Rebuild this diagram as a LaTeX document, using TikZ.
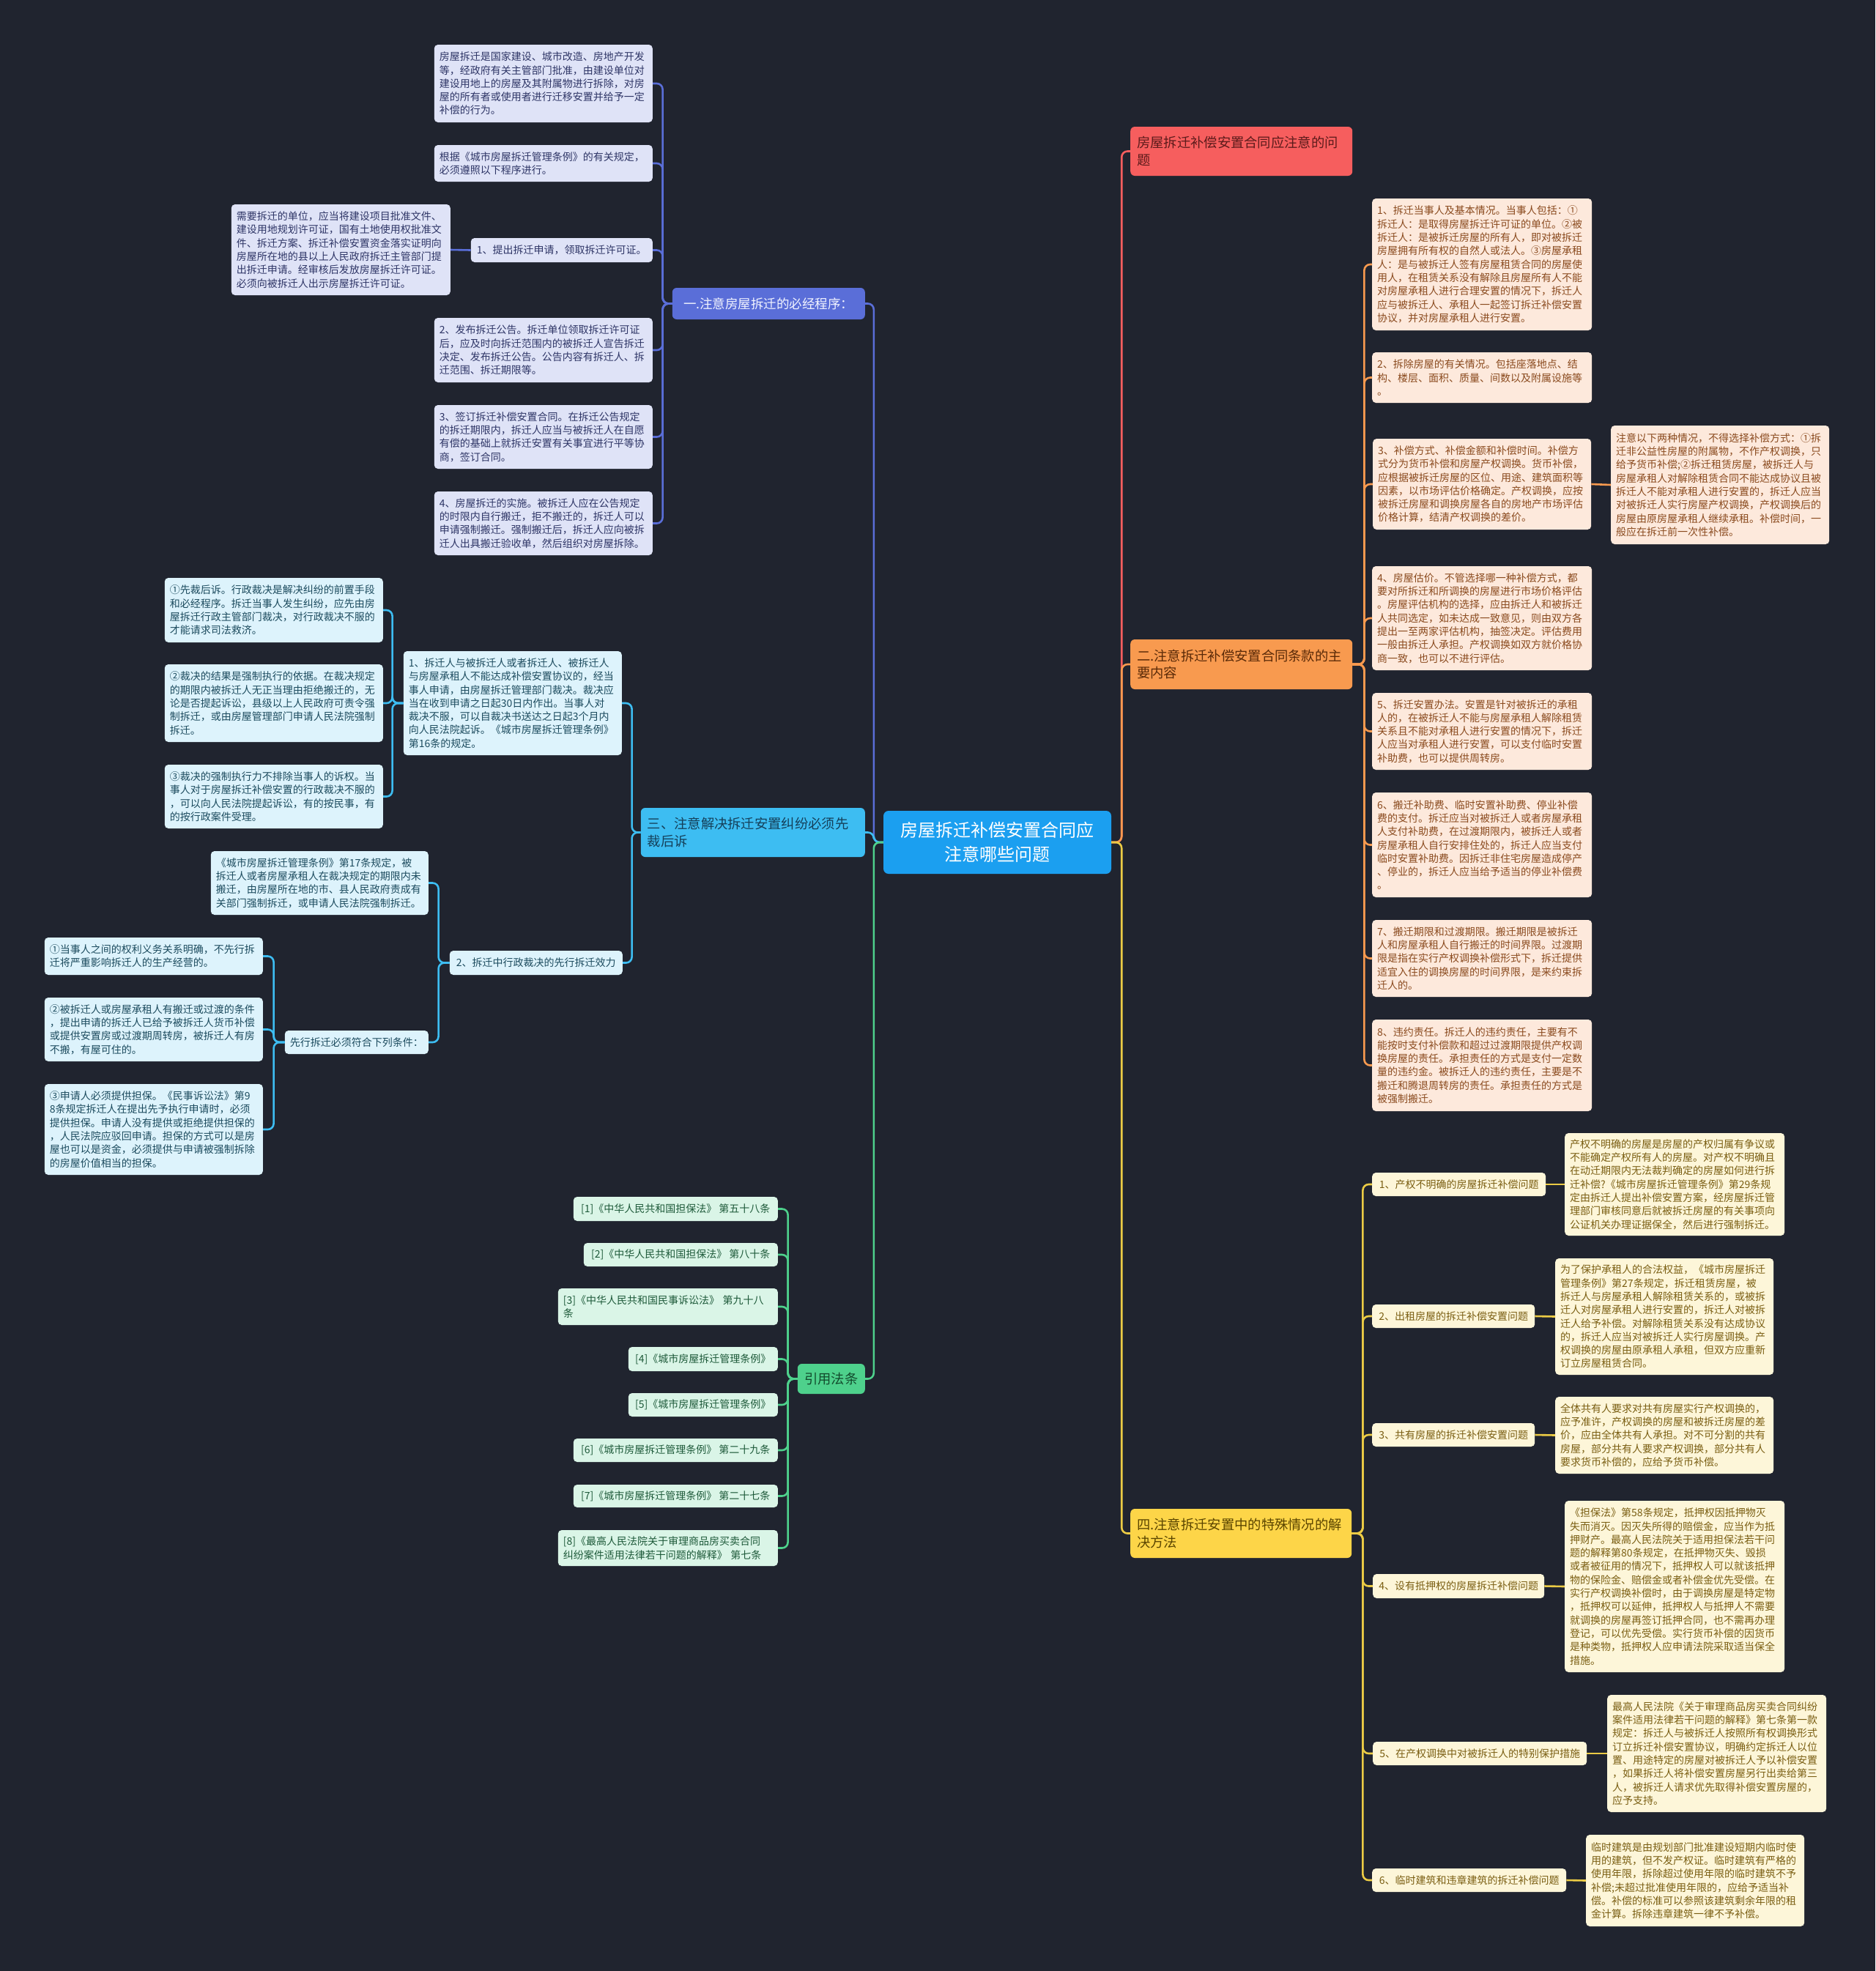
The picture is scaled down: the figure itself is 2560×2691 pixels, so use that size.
\documentclass[tikz,border=0pt]{standalone}
\usepackage{fontspec}
\setmainfont{Noto Sans CJK SC}
\definecolor{bgcol}{HTML}{20242F}
\definecolor{centrefill}{HTML}{1B9FF0}
\definecolor{redfill}{HTML}{F65E5E}
\definecolor{redtext}{HTML}{5C1B1B}
\definecolor{orangefill}{HTML}{F89A4F}
\definecolor{orangetext}{HTML}{5A2A08}
\definecolor{yellowfill}{HTML}{FDD548}
\definecolor{yellowtext}{HTML}{5A4500}
\definecolor{indigofill}{HTML}{5A6ED8}
\definecolor{indigotext}{HTML}{F2F4FF}
\definecolor{skyfill}{HTML}{3DBDF2}
\definecolor{skytext}{HTML}{15405A}
\definecolor{greenfill}{HTML}{4ED18C}
\definecolor{greentext}{HTML}{124A2C}
\definecolor{lavfill}{HTML}{DFE3F7}
\definecolor{lavtext}{HTML}{2E3566}
\definecolor{skyleaffill}{HTML}{DDF3FC}
\definecolor{skyleaftext}{HTML}{1C4B5E}
\definecolor{mintfill}{HTML}{DAF5E7}
\definecolor{minttext}{HTML}{1E5A3A}
\definecolor{peachfill}{HTML}{FDE9DC}
\definecolor{peachtext}{HTML}{8A4A1E}
\definecolor{creamfill}{HTML}{FDF6D9}
\definecolor{creamtext}{HTML}{7A5E12}
\definecolor{yellowline}{HTML}{EBCB45}
\begin{document}
\begin{tikzpicture}[x=1pt, y=-1pt,
    leaf/.style={rounded corners=5pt, inner xsep=7pt, inner ysep=3pt, align=left,
        font=\fontsize{14}{18.3}\selectfont},
    main/.style={rounded corners=6pt, inner xsep=9pt, inner ysep=3pt, align=left,
        font=\fontsize{18.3}{23.5}\selectfont},
    lavleaf/.style={leaf, fill=lavfill, text=lavtext},
    skyleaf/.style={leaf, fill=skyleaffill, text=skyleaftext},
    mintleaf/.style={leaf, fill=mintfill, text=minttext},
    peachleaf/.style={leaf, fill=peachfill, text=peachtext},
    creamleaf/.style={leaf, fill=creamfill, text=creamtext},
    conn/.style={line width=2.6pt, rounded corners=8pt}]
    % Background
    \fill[bgcol] (0,0) rectangle (2560,2691);
    \useasboundingbox (0,0) rectangle (2560,2691);
    % Centre and main branches
    \node[rounded corners=7pt, fill=centrefill, text=white, align=center,
        minimum width=311pt, minimum height=86pt,
        font=\fontsize{24}{33}\selectfont] (c) at (1361.5,1150)
        {房屋拆迁补偿安置合同应\\注意哪些问题};
    \node[main, fill=redfill, text=redtext, anchor=west, text width=285pt,
        minimum height=67pt] (r) at (1543,206.5) {房屋拆迁补偿安置合同应注意的问\\题};
    \node[main, fill=orangefill, text=orangetext, anchor=west, text width=285pt,
        minimum height=68pt] (b2) at (1543,907) {二.注意拆迁补偿安置合同条款的主\\要内容};
    \node[main, fill=yellowfill, text=yellowtext, anchor=west, text width=284pt,
        minimum height=67pt] (b4) at (1543,2093.5) {四.注意拆迁安置中的特殊情况的解\\决方法};
    \node[main, fill=indigofill, text=indigotext, anchor=east, minimum width=263pt,
        minimum height=43pt, font=\fontsize{17.5}{22}\selectfont] (b1) at (1181,414.5)
        {一.注意房屋拆迁的必经程序：};
    \node[main, fill=skyfill, text=skytext, anchor=east, text width=288pt,
        minimum height=67pt] (b3) at (1181,1136.5) {三、注意解决拆迁安置纠纷必须先\\裁后诉};
    \node[main, fill=greenfill, text=greentext, anchor=east, minimum width=92pt,
        minimum height=41pt] (bg) at (1181,1882.5) {引用法条};
    % Branch one
    \node[lavleaf, anchor=east, text width=284pt, minimum height=106pt] (p1) at (891,114)
        {房屋拆迁是国家建设、城市改造、房地产开发\\等，经政府有关主管部门批准，由建设单位对\\建设用地上的房屋及其附属物进行拆除，对房\\屋的所有者或使用者进行迁移安置并给予一定\\补偿的行为。};
    \node[lavleaf, anchor=east, text width=284pt, minimum height=50pt] (p2) at (891,223)
        {根据《城市房屋拆迁管理条例》的有关规定，\\必须遵照以下程序进行。};
    \node[lavleaf, anchor=east, minimum width=248pt, minimum height=33pt] (p3) at (891,341.5)
        {1、提出拆迁申请，领取拆迁许可证。};
    \node[lavleaf, anchor=east, text width=285pt, minimum height=124pt] (p3a) at (615,341)
        {需要拆迁的单位，应当将建设项目批准文件、\\建设用地规划许可证，国有土地使用权批准文\\件、拆迁方案、拆迁补偿安置资金落实证明向\\房屋所在地的县以上人民政府拆迁主管部门提\\出拆迁申请。经审核后发放房屋拆迁许可证。\\必须向被拆迁人出示房屋拆迁许可证。};
    \node[lavleaf, anchor=east, text width=284pt, minimum height=88pt] (p4) at (891,478)
        {2、发布拆迁公告。拆迁单位领取拆迁许可证\\后，应及时向拆迁范围内的被拆迁人宣告拆迁\\决定、发布拆迁公告。公告内容有拆迁人、拆\\迁范围、拆迁期限等。};
    \node[lavleaf, anchor=east, text width=284pt, minimum height=87pt] (p5) at (891,596.5)
        {3、签订拆迁补偿安置合同。在拆迁公告规定\\的拆迁期限内，拆迁人应当与被拆迁人在自愿\\有偿的基础上就拆迁安置有关事宜进行平等协\\商，签订合同。};
    \node[lavleaf, anchor=east, text width=284pt, minimum height=87pt] (p6) at (891,714.5)
        {4、房屋拆迁的实施。被拆迁人应在公告规定\\的时限内自行搬迁，拒不搬迁的，拆迁人可以\\申请强制搬迁。强制搬迁后，拆迁人应向被拆\\迁人出具搬迁验收单，然后组织对房屋拆除。};
    % Branch three
    \node[skyleaf, anchor=east, text width=284pt, minimum height=88pt] (t1) at (523,833)
        {①先裁后诉。行政裁决是解决纠纷的前置手段\\和必经程序。拆迁当事人发生纠纷，应先由房\\屋拆迁行政主管部门裁决，对行政裁决不服的\\才能请求司法救济。};
    \node[skyleaf, anchor=east, text width=284pt, minimum height=106pt] (t2) at (523,960)
        {②裁决的结果是强制执行的依据。在裁决规定\\的期限内被拆迁人无正当理由拒绝搬迁的，无\\论是否提起诉讼，县级以上人民政府可责令强\\制拆迁，或由房屋管理部门申请人民法院强制\\拆迁。};
    \node[skyleaf, anchor=east, text width=284pt, minimum height=87pt] (t3) at (523,1087.5)
        {③裁决的强制执行力不排除当事人的诉权。当\\事人对于房屋拆迁补偿安置的行政裁决不服的\\，可以向人民法院提起诉讼，有的按民事，有\\的按行政案件受理。};
    \node[skyleaf, anchor=east, text width=284pt, minimum height=142pt] (t4) at (849,960)
        {1、拆迁人与被拆迁人或者拆迁人、被拆迁人\\与房屋承租人不能达成补偿安置协议的，经当\\事人申请，由房屋拆迁管理部门裁决。裁决应\\当在收到申请之日起30日内作出。当事人对\\裁决不服，可以自裁决书送达之日起3个月内\\向人民法院起诉。《城市房屋拆迁管理条例》\\第16条的规定。};
    \node[skyleaf, anchor=east, text width=283pt, minimum height=87pt] (t5) at (585,1205.5)
        {《城市房屋拆迁管理条例》第17条规定，被\\拆迁人或者房屋承租人在裁决规定的期限内未\\搬迁，由房屋所在地的市、县人民政府责成有\\关部门强制拆迁，或申请人民法院强制拆迁。};
    \node[skyleaf, anchor=east, minimum width=236pt, minimum height=33pt] (t6) at (850,1314.5)
        {2、拆迁中行政裁决的先行拆迁效力};
    \node[skyleaf, anchor=east, minimum width=196pt, minimum height=32pt] (t7) at (585,1423)
        {先行拆迁必须符合下列条件：};
    \node[skyleaf, anchor=east, text width=284pt, minimum height=51pt] (t8) at (359,1305.5)
        {①当事人之间的权利义务关系明确，不先行拆\\迁将严重影响拆迁人的生产经营的。};
    \node[skyleaf, anchor=east, text width=284pt, minimum height=87pt] (t9) at (359,1405.5)
        {②被拆迁人或房屋承租人有搬迁或过渡的条件\\，提出申请的拆迁人已给予被拆迁人货币补偿\\或提供安置房或过渡期周转房，被拆迁人有房\\不搬，有屋可住的。};
    \node[skyleaf, anchor=east, text width=284pt, minimum height=124pt] (t10) at (359,1542)
        {③申请人必须提供担保。《民事诉讼法》第9\\8条规定拆迁人在提出先予执行申请时，必须\\提供担保。申请人没有提供或拒绝提供担保的\\，人民法院应驳回申请。担保的方式可以是房\\屋也可以是资金，必须提供与申请被强制拆除\\的房屋价值相当的担保。};
    % Cited laws
    \node[mintleaf, anchor=east, minimum width=279pt, minimum height=33pt] (g1) at (1062,1650.5)
        {[1]《中华人民共和国担保法》 第五十八条};
    \node[mintleaf, anchor=east, minimum width=265pt, minimum height=32pt] (g2) at (1062,1713)
        {[2]《中华人民共和国担保法》 第八十条};
    \node[mintleaf, anchor=east, text width=286pt, minimum height=50pt] (g3) at (1062,1784)
        {[3]《中华人民共和国民事诉讼法》 第九十八\\条};
    \node[mintleaf, anchor=east, minimum width=204pt, minimum height=33pt] (g4) at (1062,1855.5)
        {[4]《城市房屋拆迁管理条例》};
    \node[mintleaf, anchor=east, minimum width=204pt, minimum height=32pt] (g5) at (1062,1918)
        {[5]《城市房屋拆迁管理条例》};
    \node[mintleaf, anchor=east, minimum width=279pt, minimum height=32pt] (g6) at (1062,1980)
        {[6]《城市房屋拆迁管理条例》 第二十九条};
    \node[mintleaf, anchor=east, minimum width=279pt, minimum height=31pt] (g7) at (1062,2042.5)
        {[7]《城市房屋拆迁管理条例》 第二十七条};
    \node[mintleaf, anchor=east, text width=286pt, minimum height=49pt] (g8) at (1062,2113.5)
        {[8]《最高人民法院关于审理商品房买卖合同\\纠纷案件适用法律若干问题的解释》 第七条};
    % Branch two
    \node[peachleaf, anchor=west, text width=286pt, minimum height=180pt] (o1) at (1873,361)
        {1、拆迁当事人及基本情况。当事人包括：①\\拆迁人：是取得房屋拆迁许可证的单位。②被\\拆迁人：是被拆迁房屋的所有人，即对被拆迁\\房屋拥有所有权的自然人或法人。③房屋承租\\人：是与被拆迁人签有房屋租赁合同的房屋使\\用人，在租赁关系没有解除且房屋所有人不能\\对房屋承租人进行合理安置的情况下，拆迁人\\应与被拆迁人、承租人一起签订拆迁补偿安置\\协议，并对房屋承租人进行安置。};
    \node[peachleaf, anchor=west, text width=286pt, minimum height=69pt] (o2) at (1873,515.5)
        {2、拆除房屋的有关情况。包括座落地点、结\\构、楼层、面积、质量、间数以及附属设施等\\。};
    \node[peachleaf, anchor=west, text width=284pt, minimum height=124pt] (o3) at (1874,661)
        {3、补偿方式、补偿金额和补偿时间。补偿方\\式分为货币补偿和房屋产权调换。货币补偿，\\应根据被拆迁房屋的区位、用途、建筑面积等\\因素，以市场评估价格确定。产权调换，应按\\被拆迁房屋和调换房屋各自的房地产市场评估\\价格计算，结清产权调换的差价。};
    \node[peachleaf, anchor=west, text width=284pt, minimum height=162pt] (o3a) at (2199,662)
        {注意以下两种情况，不得选择补偿方式：①拆\\迁非公益性房屋的附属物，不作产权调换，只\\给予货币补偿;②拆迁租赁房屋，被拆迁人与\\房屋承租人对解除租赁合同不能达成协议且被\\拆迁人不能对承租人进行安置的，拆迁人应当\\对被拆迁人实行房屋产权调换，产权调换后的\\房屋由原房屋承租人继续承租。补偿时间，一\\般应在拆迁前一次性补偿。};
    \node[peachleaf, anchor=west, text width=286pt, minimum height=142pt] (o4) at (1873,844)
        {4、房屋估价。不管选择哪一种补偿方式，都\\要对所拆迁和所调换的房屋进行市场价格评估\\。房屋评估机构的选择，应由拆迁人和被拆迁\\人共同选定，如未达成一致意见，则由双方各\\提出一至两家评估机构，抽签决定。评估费用\\一般由拆迁人承担。产权调换如双方就价格协\\商一致，也可以不进行评估。};
    \node[peachleaf, anchor=west, text width=286pt, minimum height=105pt] (o5) at (1873,998.5)
        {5、拆迁安置办法。安置是针对被拆迁的承租\\人的，在被拆迁人不能与房屋承租人解除租赁\\关系且不能对承租人进行安置的情况下，拆迁\\人应当对承租人进行安置，可以支付临时安置\\补助费，也可以提供周转房。};
    \node[peachleaf, anchor=west, text width=286pt, minimum height=143pt] (o6) at (1873,1153.5)
        {6、搬迁补助费、临时安置补助费、停业补偿\\费的支付。拆迁应当对被拆迁人或者房屋承租\\人支付补助费，在过渡期限内，被拆迁人或者\\房屋承租人自行安排住处的，拆迁人应当支付\\临时安置补助费。因拆迁非住宅房屋造成停产\\、停业的，拆迁人应当给予适当的停业补偿费\\。};
    \node[peachleaf, anchor=west, text width=286pt, minimum height=105pt] (o7) at (1873,1308.5)
        {7、搬迁期限和过渡期限。搬迁期限是被拆迁\\人和房屋承租人自行搬迁的时间界限。过渡期\\限是指在实行产权调换补偿形式下，拆迁提供\\适宜入住的调换房屋的时间界限，是来约束拆\\迁人的。};
    \node[peachleaf, anchor=west, text width=286pt, minimum height=125pt] (o8) at (1873,1454.5)
        {8、违约责任。拆迁人的违约责任，主要有不\\能按时支付补偿款和超过过渡期限提供产权调\\换房屋的责任。承担责任的方式是支付一定数\\量的违约金。被拆迁人的违约责任，主要是不\\搬迁和腾退周转房的责任。承担责任的方式是\\被强制搬迁。};
    % Branch four
    \node[creamleaf, anchor=west, minimum width=237pt, minimum height=32pt] (y1) at (1873,1617)
        {1、产权不明确的房屋拆迁补偿问题};
    \node[creamleaf, anchor=west, text width=286pt, minimum height=140pt] (y1a) at (2136,1617)
        {产权不明确的房屋是房屋的产权归属有争议或\\不能确定产权所有人的房屋。对产权不明确且\\在动迁期限内无法裁判确定的房屋如何进行拆\\迁补偿?《城市房屋拆迁管理条例》第29条规\\定由拆迁人提出补偿安置方案，经房屋拆迁管\\理部门审核同意后就被拆迁房屋的有关事项向\\公证机关办理证据保全，然后进行强制拆迁。};
    \node[creamleaf, anchor=west, minimum width=222pt, minimum height=32pt] (y2) at (1873,1797)
        {2、出租房屋的拆迁补偿安置问题};
    \node[creamleaf, anchor=west, text width=284pt, minimum height=159pt] (y2a) at (2123,1797.5)
        {为了保护承租人的合法权益，《城市房屋拆迁\\管理条例》第27条规定，拆迁租赁房屋，被\\拆迁人与房屋承租人解除租赁关系的，或被拆\\迁人对房屋承租人进行安置的，拆迁人对被拆\\迁人给予补偿。对解除租赁关系没有达成协议\\的，拆迁人应当对被拆迁人实行房屋调换。产\\权调换的房屋由原承租人承租，但双方应重新\\订立房屋租赁合同。};
    \node[creamleaf, anchor=west, minimum width=222pt, minimum height=32pt] (y3) at (1873,1959)
        {3、共有房屋的拆迁补偿安置问题};
    \node[creamleaf, anchor=west, text width=284pt, minimum height=105pt] (y3a) at (2123,1959.5)
        {全体共有人要求对共有房屋实行产权调换的，\\应予准许，产权调换的房屋和被拆迁房屋的差\\价，应由全体共有人承担。对不可分割的共有\\房屋，部分共有人要求产权调换，部分共有人\\要求货币补偿的，应给予货币补偿。};
    \node[creamleaf, anchor=west, minimum width=234pt, minimum height=33pt] (y4) at (1874,2165.5)
        {4、设有抵押权的房屋拆迁补偿问题};
    \node[creamleaf, anchor=west, text width=286pt, minimum height=234pt] (y4a) at (2136,2166)
        {《担保法》第58条规定，抵押权因抵押物灭\\失而消灭。因灭失所得的赔偿金，应当作为抵\\押财产。最高人民法院关于适用担保法若干问\\题的解释第80条规定，在抵押物灭失、毁损\\或者被征用的情况下，抵押权人可以就该抵押\\物的保险金、赔偿金或者补偿金优先受偿。在\\实行产权调换补偿时，由于调换房屋是特定物\\，抵押权可以延伸，抵押权人与抵押人不需要\\就调换的房屋再签订抵押合同，也不需再办理\\登记，可以优先受偿。实行货币补偿的因货币\\是种类物，抵押权人应申请法院采取适当保全\\措施。};
    \node[creamleaf, anchor=west, minimum width=292pt, minimum height=32pt] (y5) at (1874,2394)
        {5、在产权调换中对被拆迁人的特别保护措施};
    \node[creamleaf, anchor=west, text width=285pt, minimum height=160pt] (y5a) at (2194,2394)
        {最高人民法院《关于审理商品房买卖合同纠纷\\案件适用法律若干问题的解释》第七条第一款\\规定：拆迁人与被拆迁人按照所有权调换形式\\订立拆迁补偿安置协议，明确约定拆迁人以位\\置、用途特定的房屋对被拆迁人予以补偿安置\\，如果拆迁人将补偿安置房屋另行出卖给第三\\人，被拆迁人请求优先取得补偿安置房屋的，\\应予支持。};
    \node[creamleaf, anchor=west, minimum width=265pt, minimum height=32pt] (y6) at (1873,2567)
        {6、临时建筑和违章建筑的拆迁补偿问题};
    \node[creamleaf, anchor=west, text width=284pt, minimum height=125pt] (y6a) at (2165,2567.5)
        {临时建筑是由规划部门批准建设短期内临时使\\用的建筑，但不发产权证。临时建筑有严格的\\使用年限，拆除超过使用年限的临时建筑不予\\补偿;未超过批准使用年限的，应给予适当补\\偿。补偿的标准可以参照该建筑剩余年限的租\\金计算。拆除违章建筑一律不予补偿。};
    % Connectors from the centre
    \draw[conn, redfill] (c.east) -- ++(14,0) |- (r.west);
    \draw[conn, orangefill] (c.east) -- ++(14,0) |- (b2.west);
    \draw[conn, yellowline] (c.east) -- ++(14,0) |- (b4.west);
    \draw[conn, indigofill] (c.west) -- ++(-13,0) |- (b1.east);
    \draw[conn, skyfill] (c.west) -- ++(-13,0) |- (b3.east);
    \draw[conn, greenfill] (c.west) -- ++(-13,0) |- (bg.east);
    % Connectors to the leaves
    \foreach \n in {p1,p2,p3,p4,p5,p6}
        \draw[conn, indigofill] (b1.west) -- ++(-13,0) |- (\n.east);
    \draw[conn, indigofill] (p3.west) -- (p3a.east);
    \foreach \n in {t4,t6}
        \draw[conn, skyfill] (b3.west) -- ++(-12,0) |- (\n.east);
    \foreach \n in {t1,t2,t3}
        \draw[conn, skyfill] (t4.west) -- ++(-15,0) |- (\n.east);
    \foreach \n in {t5,t7}
        \draw[conn, skyfill] (t6.west) -- ++(-15,0) |- (\n.east);
    \foreach \n in {t8,t9,t10}
        \draw[conn, skyfill] (t7.west) -- ++(-15,0) |- (\n.east);
    \foreach \n in {g1,g2,g3,g4,g5,g6,g7,g8}
        \draw[conn, greenfill] (bg.west) -- ++(-13,0) |- (\n.east);
    \foreach \n in {o1,o2,o3,o4,o5,o6,o7,o8}
        \draw[conn, orangefill] (b2.east) -- ++(16,0) |- (\n.west);
    \draw[conn, orangefill] (o3.east) -- (o3a.west);
    \foreach \n in {y1,y2,y3,y4,y5,y6} {
        \draw[conn, yellowline] (b4.east) -- ++(15,0) |- (\n.west);
        \draw[conn, yellowline] (\n.east) -- (\n a.west);
    }
\end{tikzpicture}
\end{document}
